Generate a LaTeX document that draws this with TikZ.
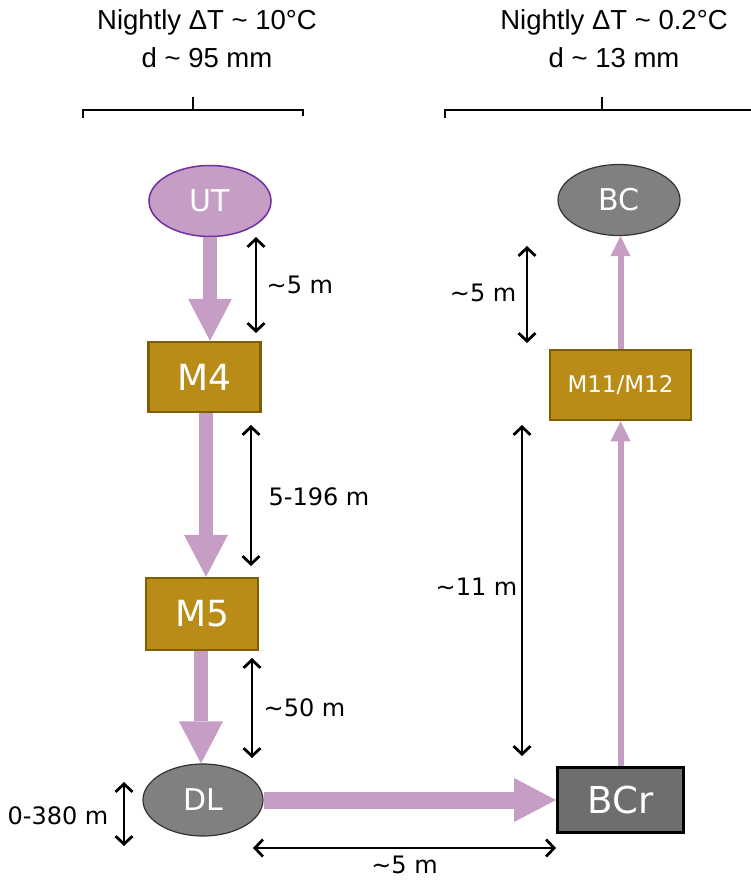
\documentclass[tikz,border=0pt]{standalone}
\usepackage{fontspec}
\setmainfont{DejaVu Sans}
\newfontfamily\headfont{Liberation Sans}
\usetikzlibrary{arrows.meta,shapes.geometric}

\definecolor{flow}{RGB}{197,157,197}
\definecolor{utedge}{RGB}{112,48,160}
\definecolor{gold}{RGB}{184,140,22}
\definecolor{goldedge}{RGB}{127,96,0}
\definecolor{greyfill}{RGB}{128,128,128}
\definecolor{darkfill}{RGB}{110,110,110}

\newcommand{\tld}{\textasciitilde}

\tikzset{
  site/.style={ellipse, draw=black!80, line width=1.2pt, fill=greyfill, text=white,
    minimum width=122pt, minimum height=71pt, inner sep=0pt, font=\fontsize{30}{32}\selectfont},
  mbox/.style={rectangle, draw=goldedge, line width=2.5pt, fill=gold, text=white,
    minimum width=112pt, minimum height=70pt, inner sep=0pt, font=\fontsize{36}{38}\selectfont},
  bigflow/.style={flow, line width=14pt, -{Triangle[length=42pt,width=44pt,line width=0pt]}},
  thinflow/.style={flow, line width=6pt, -{Triangle[length=20pt,width=20pt,line width=0pt]}},
  barb/.tip={Straight Barb[length=8pt,width=17pt,line width=2.8pt]},
  dimarr/.style={line width=1.3pt, barb-barb},
  dimlbl/.style={font=\fontsize{24}{26}\selectfont, inner sep=0pt},
  head/.style={font=\headfont\fontsize{27.5}{38}\selectfont, align=center, inner sep=0pt},
  brace/.style={line width=2.8pt}
}

\begin{document}
\begin{tikzpicture}[x=1pt,y=-1pt]
\useasboundingbox (0,0) rectangle (751,881);

% headers
\node[head] (hdl) at (207,39) {Nightly ΔT \tld{} 10°C\\d \tld{} 95 mm};
\node[head] (hdr) at (614,39) {Nightly ΔT \tld{} 0.2°C\\d \tld{} 13 mm};
\draw[brace] (83,118) -- (83,110) -- (303,110) -- (303,116);
\draw[brace] (193,110) -- (193,97);
\draw[brace] (445,118) -- (445,110) -- (751,110);
\draw[brace] (602,110) -- (602,97);

% sites
\node[site, fill=flow, draw=utedge, line width=1.5pt] (UT) at (210,201) {UT};
\node[mbox] (M4) at (204.5,377) {M4};
\node[mbox, minimum height=72pt] (M5) at (202,614) {M5};
\node[site, minimum width=120pt, minimum height=72pt] (DL) at (203,800) {DL};
\node[rectangle, draw=black, line width=3pt, fill=darkfill, text=white, minimum width=126pt,
  minimum height=65pt, font=\fontsize{37}{39}\selectfont] (BCr) at (620.5,800) {BCr};
\node[mbox, minimum width=141pt, font=\fontsize{23}{25}\selectfont] (M11) at (620.5,385) {M11/M12};
\node[site] (BC) at (619,200) {BC};

% flows
\draw[bigflow] (UT.south) -- (UT.south |- M4.north);
\draw[bigflow] ([xshift=1.5pt]M4.south) -- ([xshift=1.5pt]M4.south |- M5.north);
\draw[bigflow] ([xshift=-1pt]M5.south) -- ([xshift=-1pt]M5.south |- DL.north);
\draw[bigflow, line width=17pt] (DL.east) -- (BCr.west);
\draw[thinflow] (BCr.north) -- (M11.south);
\draw[thinflow] (M11.north) -- (M11.north |- BC.south);

% distances
\draw[dimarr] (256,237) -- (256,333) node[dimlbl, midway, anchor=west, xshift=10pt] (dUT) {\tld5 m};
\draw[dimarr] (251,425) -- (251,566) node[dimlbl, midway, anchor=west, xshift=17pt, yshift=-1pt] (dM4) {5-196 m};
\draw[dimarr] (252,658) -- (252,758) node[dimlbl, midway, anchor=west, xshift=11pt] (dM5) {\tld50 m};
\draw[dimarr] (527,246) -- (527,343) node[dimlbl, midway, anchor=east, xshift=-10pt, yshift=2pt] (dBC) {\tld5 m};
\draw[dimarr] (522,425) -- (522,756) node[dimlbl, midway, anchor=east, xshift=-4pt, yshift=4pt] (dM11) {\tld11 m};
\draw[dimarr] (124,782) -- (124,846) node[dimlbl, midway, anchor=east, xshift=-15pt, yshift=-2pt] (dDL) {0-380 m};
\draw[dimarr] (253,848) -- (556,848) node[dimlbl, midway, anchor=north, yshift=-7pt] (dBCr) {\tld5 m};
\end{tikzpicture}
\end{document}
